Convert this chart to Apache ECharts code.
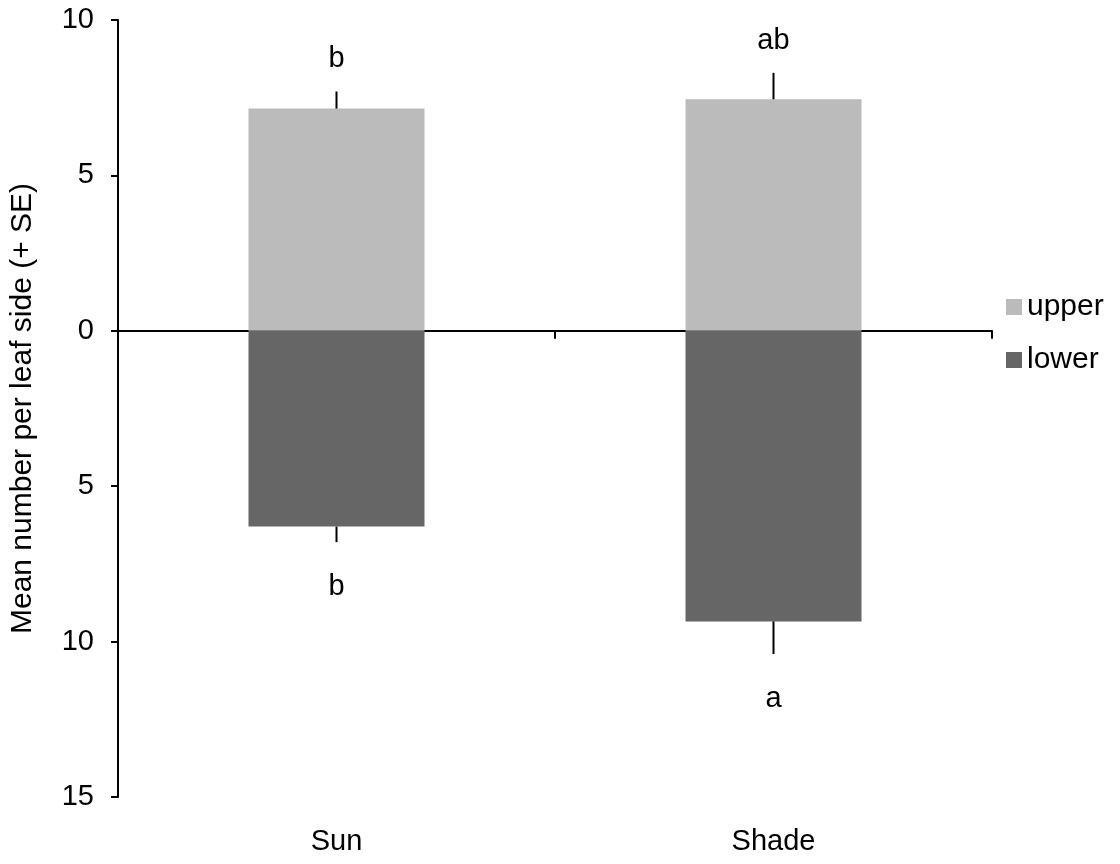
<!DOCTYPE html>
<html><head><meta charset="utf-8">
<script src="https://cdn.jsdelivr.net/npm/echarts@6/dist/echarts.min.js"></script>
<style>html,body{margin:0;padding:0;background:#fff}#c{width:1120px;height:864px}</style>
</head><body><div id="c"></div>
<script>
const categories = ['Sun', 'Shade'];
const upperValues = [7.15, 7.45];
const upperSE = [0.55, 0.85];
const lowerValues = [-6.3, -9.35];
const lowerSE = [0.5, 1.05];
const upperLetters = ['b', 'ab'];
const lowerLetters = ['b', 'a'];
const yTicks = [-15, -10, -5, 0, 5, 10];

const FONT = 'Liberation Sans, Arial, sans-serif';
const FS = 29;
const chart = echarts.init(document.getElementById('c'));

function errData(vals, se, letters, dir) {
  return vals.map((v, i) => [i, v, v + dir * se[i], letters[i], dir]);
}

const errSeriesRender = function (params, api) {
  const x = api.value(0);
  const p0 = api.coord([x, api.value(1)]);
  const p1 = api.coord([x, api.value(2)]);
  const dir = api.value(4);
  const letter = api.value(3);
  return {
    type: 'group',
    children: [
      { type: 'line', shape: { x1: p0[0], y1: p0[1], x2: p1[0], y2: p1[1] },
        style: { stroke: '#000', lineWidth: 2 } },
      { type: 'text', x: p1[0], y: p1[1] - dir * (dir > 0 ? 32 : 45),
        style: { text: letter, fill: '#000', font: FS + 'px ' + FONT, align: 'center', verticalAlign: 'middle' } }
    ]
  };
};

chart.setOption({
  animation: false,
  backgroundColor: '#fff',
  grid: { left: 118, right: 128, top: 20, bottom: 67, outerBoundsMode: 'none', containLabel: false },
  legend: {
    orient: 'vertical', left: 1006, top: 292, itemWidth: 16, itemHeight: 16, itemGap: 23, padding: 0,
    textStyle: { fontFamily: FONT, fontSize: 30, color: '#000' },
    data: [{ name: 'upper', icon: 'rect' }, { name: 'lower', icon: 'rect' }]
  },
  xAxis: [
    { type: 'category', data: categories, axisLine: { onZero: true, lineStyle: { color: '#000', width: 2 } },
      axisTick: { show: true, length: 8, lineStyle: { color: '#000', width: 2 } },
      axisLabel: { show: false }, splitLine: { show: false } },
    { type: 'category', data: categories, position: 'bottom', axisLine: { show: false, onZero: false },
      axisTick: { show: false }, splitLine: { show: false },
      axisLabel: { show: true, margin: 30, fontFamily: FONT, fontSize: FS, color: '#000' } }
  ],
  yAxis: {
    type: 'value', min: -15, max: 10, interval: 5,
    name: 'Mean number per leaf side (+ SE)', nameLocation: 'middle', nameGap: 80,
    nameTextStyle: { fontFamily: FONT, fontSize: FS + 1, color: '#000' },
    axisLine: { show: true, lineStyle: { color: '#000', width: 2 } },
    axisTick: { show: true, length: 7, lineStyle: { color: '#000', width: 2 } },
    axisLabel: { fontFamily: FONT, fontSize: FS, color: '#000', margin: 24,
      formatter: v => yTicks.includes(v) ? String(Math.abs(v)) : '' },
    splitLine: { show: false }
  },
  series: [
    { name: 'upper', type: 'bar', data: upperValues, barWidth: 176, barGap: '-100%',
      itemStyle: { color: '#bbbbbb' }, z: 1 },
    { name: 'lower', type: 'bar', data: lowerValues, barWidth: 176, barGap: '-100%',
      itemStyle: { color: '#666666' }, z: 1 },
    { type: 'custom', renderItem: errSeriesRender, data: errData(upperValues, upperSE, upperLetters, 1), z: 3 },
    { type: 'custom', renderItem: errSeriesRender, data: errData(lowerValues, lowerSE, lowerLetters, -1), z: 3 }
  ]
});
</script></body></html>
